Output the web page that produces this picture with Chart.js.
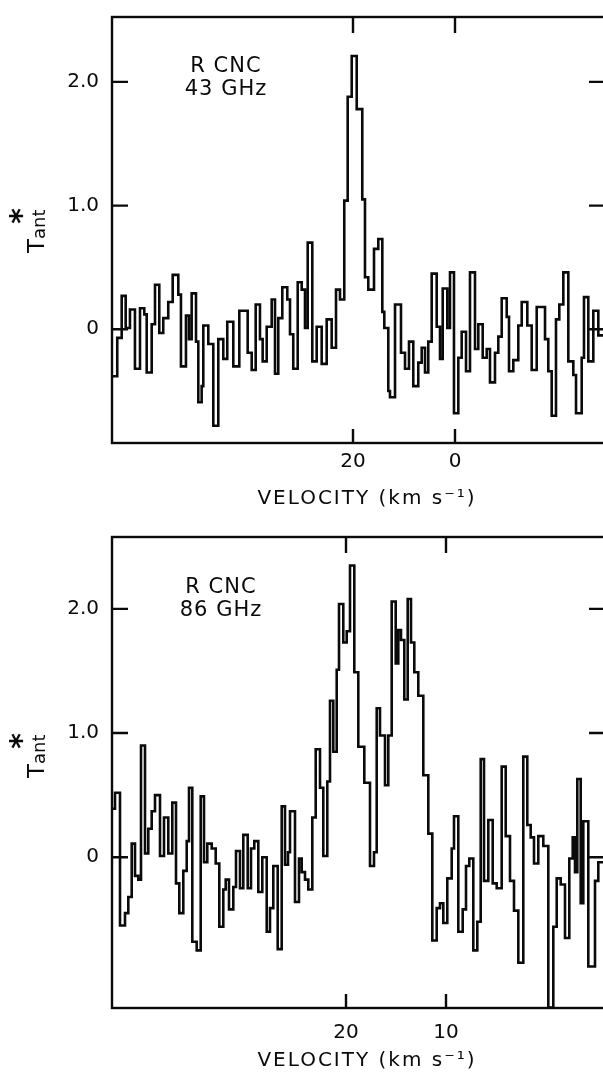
<!DOCTYPE html>
<html>
<head>
<meta charset="utf-8">
<script src="https://cdn.jsdelivr.net/npm/chart.js@4"></script>
<style>
  html, body { margin: 0; padding: 0; background: #fff; overflow: hidden; width: 603px; height: 1074px; }
  .panel { position: absolute; left: 0; }
  canvas { display: block; }
</style>
</head>
<body>
<div class="panel" style="top:0"><canvas id="chart43" width="610" height="520"></canvas></div>
<div class="panel" style="top:520px"><canvas id="chart86" width="610" height="554"></canvas></div>
<script>
// channel left edges (km/s, last entry closes the final channel) and antenna temperatures
const edges43 = [67.25, 66.22, 65.35, 64.57, 63.73, 62.75, 61.76, 60.92, 60.45, 59.47, 58.82, 57.98, 57.20, 56.22, 55.35,
  54.25, 53.73, 52.75, 52.16, 51.63, 50.78, 50.33, 49.67, 49.35, 48.37, 47.39, 46.41, 45.43, 44.65, 43.47, 42.29, 40.65,
  39.86, 39.08, 38.24, 37.71, 36.92, 35.94, 35.29, 34.65, 33.86, 32.88, 32.35, 31.71, 30.84, 30.06, 29.41, 28.88, 27.98,
  27.12, 26.14, 25.16, 24.18, 23.33, 22.55, 21.71, 21.04, 20.25, 19.27, 18.18, 17.65, 17.00, 15.88, 15.04, 14.25, 13.86,
  13.08, 12.75, 11.76, 10.59, 9.80, 9.02, 8.18, 7.20, 6.53, 5.88, 5.24, 4.57, 3.59, 2.94, 2.41, 1.51, 0.98, 0.20, -0.65,
  -1.31, -2.16, -2.94, -3.92, -4.57, -5.43, -6.22, -6.86, -7.84, -8.49, -9.16, -10.14, -10.59, -11.43, -12.41, -13.08,
  -14.18, -15.04, -16.02, -17.65, -18.29, -18.96, -19.80, -20.45, -21.24, -22.22, -23.20, -23.73, -24.84, -25.29, -26.14,
  -27.12, -28.10, -29.41];
const tant43 = [-0.38, -0.07, 0.27, 0.01, 0.16, -0.32, 0.17, 0.12, -0.35, 0.04, 0.36, -0.03, 0.09, 0.22, 0.44, 0.28,
  -0.30, 0.11, -0.08, 0.29, -0.10, -0.59, -0.46, 0.03, -0.12, -0.78, -0.08, -0.24, 0.06, -0.30, 0.15, -0.19, -0.33, 0.20,
  -0.08, -0.26, 0.02, 0.24, -0.36, 0.09, 0.34, 0.24, -0.04, -0.32, 0.38, 0.32, 0.01, 0.70, -0.26, 0.02, -0.28, 0.08, -0.15,
  0.32, 0.24, 1.04, 1.88, 2.21, 1.78, 1.05, 0.42, 0.32, 0.65, 0.73, 0.14, 0.01, -0.50, -0.55, 0.20, -0.19, -0.32, -0.10,
  -0.46, -0.27, -0.15, -0.35, -0.10, 0.45, 0.02, -0.24, 0.33, 0.01, 0.46, -0.68, -0.23, -0.02, -0.34, 0.46, -0.16, 0.04,
  -0.23, -0.16, -0.43, -0.19, -0.06, 0.25, 0.10, -0.34, -0.25, 0.03, 0.22, 0.03, -0.33, 0.18, -0.08, -0.34, -0.70, 0.08,
  0.20, 0.46, -0.26, -0.37, -0.68, -0.23, 0.26, -0.26, 0.15, -0.05];

const edges86 = [43.4, 43.1, 42.6, 42.1, 41.77, 41.43, 41.1, 40.77, 40.5, 40.1, 39.77, 39.43, 39.1, 38.6, 38.2, 37.77,
  37.37, 37.0, 36.67, 36.27, 35.93, 35.7, 35.37, 34.93, 34.53, 34.2, 33.87, 33.43, 33.03, 32.67, 32.27, 32.03, 31.7,
  31.27, 31.0, 30.6, 30.27, 29.83, 29.5, 29.17, 28.77, 28.37, 27.93, 27.6, 27.27, 26.83, 26.43, 26.1, 25.8, 25.6, 25.1,
  24.7, 24.43, 24.1, 23.77, 23.37, 23.03, 22.6, 22.27, 21.87, 21.6, 21.27, 20.93, 20.7, 20.27, 19.93, 19.6, 19.17, 18.77,
  18.17, 17.6, 17.2, 16.93, 16.6, 16.1, 15.77, 15.43, 15.03, 14.77, 14.5, 14.17, 13.83, 13.5, 13.17, 12.77, 12.27, 11.77,
  11.37, 10.93, 10.6, 10.27, 9.87, 9.43, 9.2, 8.77, 8.33, 8.0, 7.67, 7.27, 6.87, 6.53, 6.2, 5.77, 5.33, 4.93, 4.43, 4.03,
  3.6, 3.2, 2.77, 2.27, 1.87, 1.53, 1.2, 0.77, 0.27, -0.23, -0.73, -1.07, -1.47, -1.9, -2.33, -2.67, -2.9, -3.13, -3.47,
  -3.73, -4.23, -4.9, -5.23, -5.9];
const tant86 = [0.39, 0.52, -0.55, -0.45, -0.32, 0.11, -0.15, -0.18, 0.90, 0.03, 0.23, 0.37, 0.50, 0.01, 0.32, 0.03,
  0.44, -0.21, -0.45, -0.11, 0.13, 0.56, -0.68, -0.75, 0.49, -0.04, 0.11, 0.07, -0.05, -0.56, -0.26, -0.18, -0.42, -0.24,
  0.05, -0.25, 0.18, -0.25, 0.07, 0.13, -0.28, 0.00, -0.60, -0.41, -0.07, -0.74, 0.41, -0.06, 0.04, 0.37, -0.36, -0.01,
  -0.12, -0.18, -0.26, 0.32, 0.87, 0.56, 0.01, 0.61, 1.26, 0.85, 1.51, 2.04, 1.73, 1.82, 2.35, 1.49, 0.89, 0.60, -0.07,
  0.04, 1.20, 0.98, 0.58, 0.98, 2.06, 1.56, 1.83, 1.75, 1.27, 2.08, 1.73, 1.49, 1.30, 0.66, 0.19, -0.67, -0.41, -0.37,
  -0.53, -0.17, 0.07, 0.33, -0.60, -0.42, -0.07, -0.01, -0.75, -0.52, 0.79, -0.19, 0.30, -0.21, -0.25, 0.73, 0.17, -0.19,
  -0.43, -0.85, 0.81, 0.26, 0.16, -0.05, 0.17, 0.09, -1.21, -0.56, -0.17, -0.22, -0.65, -0.01, 0.16, -0.12, 0.63, -0.37,
  0.29, -0.88, -0.19, -0.04];

const yTicks = [0, 1, 2];
const xTicks43 = [20, 0];
const xTicks86 = [20, 10];

const ink = '#0a0a0a';
const family = '"DejaVu Sans", "Liberation Sans", sans-serif';

// box, inward tick marks and the hand-lettered labels
const frame = {
  id: 'frame',
  afterDatasetsDraw(chart, args, opts) {
    const { ctx, chartArea: a, scales: { x, y } } = chart;
    ctx.save();
    ctx.strokeStyle = ink;
    ctx.lineWidth = 2.4;
    ctx.strokeRect(a.left, a.top, a.right - a.left, a.bottom - a.top);
    ctx.beginPath();
    yTicks.forEach(v => {
      const py = y.getPixelForValue(v);
      ctx.moveTo(a.left, py); ctx.lineTo(a.left + 16, py);
      ctx.moveTo(a.right - 16, py); ctx.lineTo(a.right, py);
    });
    opts.xTicks.forEach(v => {
      const px = x.getPixelForValue(v);
      ctx.moveTo(px, a.top); ctx.lineTo(px, a.top + 16);
      ctx.moveTo(px, a.bottom); ctx.lineTo(px, a.bottom - 14);
    });
    ctx.stroke();

    ctx.fillStyle = ink;
    ctx.textAlign = 'center';
    ctx.textBaseline = 'alphabetic';
    ctx.font = '21px ' + family;
    ctx.letterSpacing = '1px';
    ctx.fillText('R CNC', opts.labelX, opts.labelY);
    ctx.fillText(opts.freq, opts.labelX, opts.labelY + 23);

    ctx.font = '20px ' + family;
    ctx.letterSpacing = '2px';
    ctx.fillText('VELOCITY (km s\u207B\u00B9)', 367, opts.titleY);
    ctx.letterSpacing = '0px';

    // T*ant, rotated
    ctx.translate(44, opts.tY);
    ctx.rotate(-Math.PI / 2);
    ctx.textAlign = 'left';
    ctx.font = '23px ' + family;
    ctx.fillText('T', 0, 0);
    ctx.font = '18px ' + family;
    ctx.fillText('ant', 14, 1);
    ctx.font = 'bold 30px ' + family;
    ctx.textAlign = 'center';
    ctx.fillText('*', 37, -13);
    ctx.restore();
  }
};

function drawPanel(id, edges, tant, xTicks, cfg) {
  const pts = edges.map((v, i) => ({ x: v, y: tant[Math.min(i, tant.length - 1)] }));
  return new Chart(document.getElementById(id), {
    type: 'line',
    data: {
      datasets: [{
        data: pts,
        stepped: true,
        borderColor: ink,
        borderWidth: 2.6,
        pointRadius: 0,
        fill: false
      }]
    },
    options: {
      responsive: false,
      animation: false,
      devicePixelRatio: 1,
      layout: { padding: { left: 0, right: 5, top: cfg.padTop, bottom: 0 } },
      plugins: {
        legend: { display: false },
        tooltip: { enabled: false },
        frame: cfg.frame
      },
      scales: {
        x: {
          type: 'linear',
          reverse: true,
          min: edges[edges.length - 1],
          max: edges[0],
          afterBuildTicks: s => { s.ticks = xTicks.map(v => ({ value: v })); },
          afterFit: s => { s.height = cfg.xAxisH; },
          grid: { display: false },
          border: { display: false },
          ticks: { color: ink, font: { family: family, size: 20 }, padding: cfg.xPad, maxRotation: 0,
            callback: v => String(v) }
        },
        y: {
          min: cfg.yMin,
          max: cfg.yMax,
          afterBuildTicks: s => { s.ticks = yTicks.map(v => ({ value: v })); },
          afterFit: s => { s.width = 112; },
          grid: { display: false },
          border: { display: false },
          ticks: { color: ink, font: { family: family, size: 20 }, padding: 5,
            callback: v => v === 0 ? '0' : v.toFixed(1) }
        }
      }
    },
    plugins: [frame]
  });
}

drawPanel('chart43', edges43, tant43, xTicks43, {
  padTop: 13, xAxisH: 77, xPad: -1, yMin: -0.92, yMax: 2.525,
  frame: { xTicks: xTicks43, freq: '43 GHz', labelX: 226, labelY: 72, titleY: 504, tY: 253 }
});

drawPanel('chart86', edges86, tant86, xTicks86, {
  padTop: 10, xAxisH: 66, xPad: 5, yMin: -1.214, yMax: 2.579,
  frame: { xTicks: xTicks86, freq: '86 GHz', labelX: 221, labelY: 73, titleY: 546, tY: 258 }
});
</script>
</body>
</html>
